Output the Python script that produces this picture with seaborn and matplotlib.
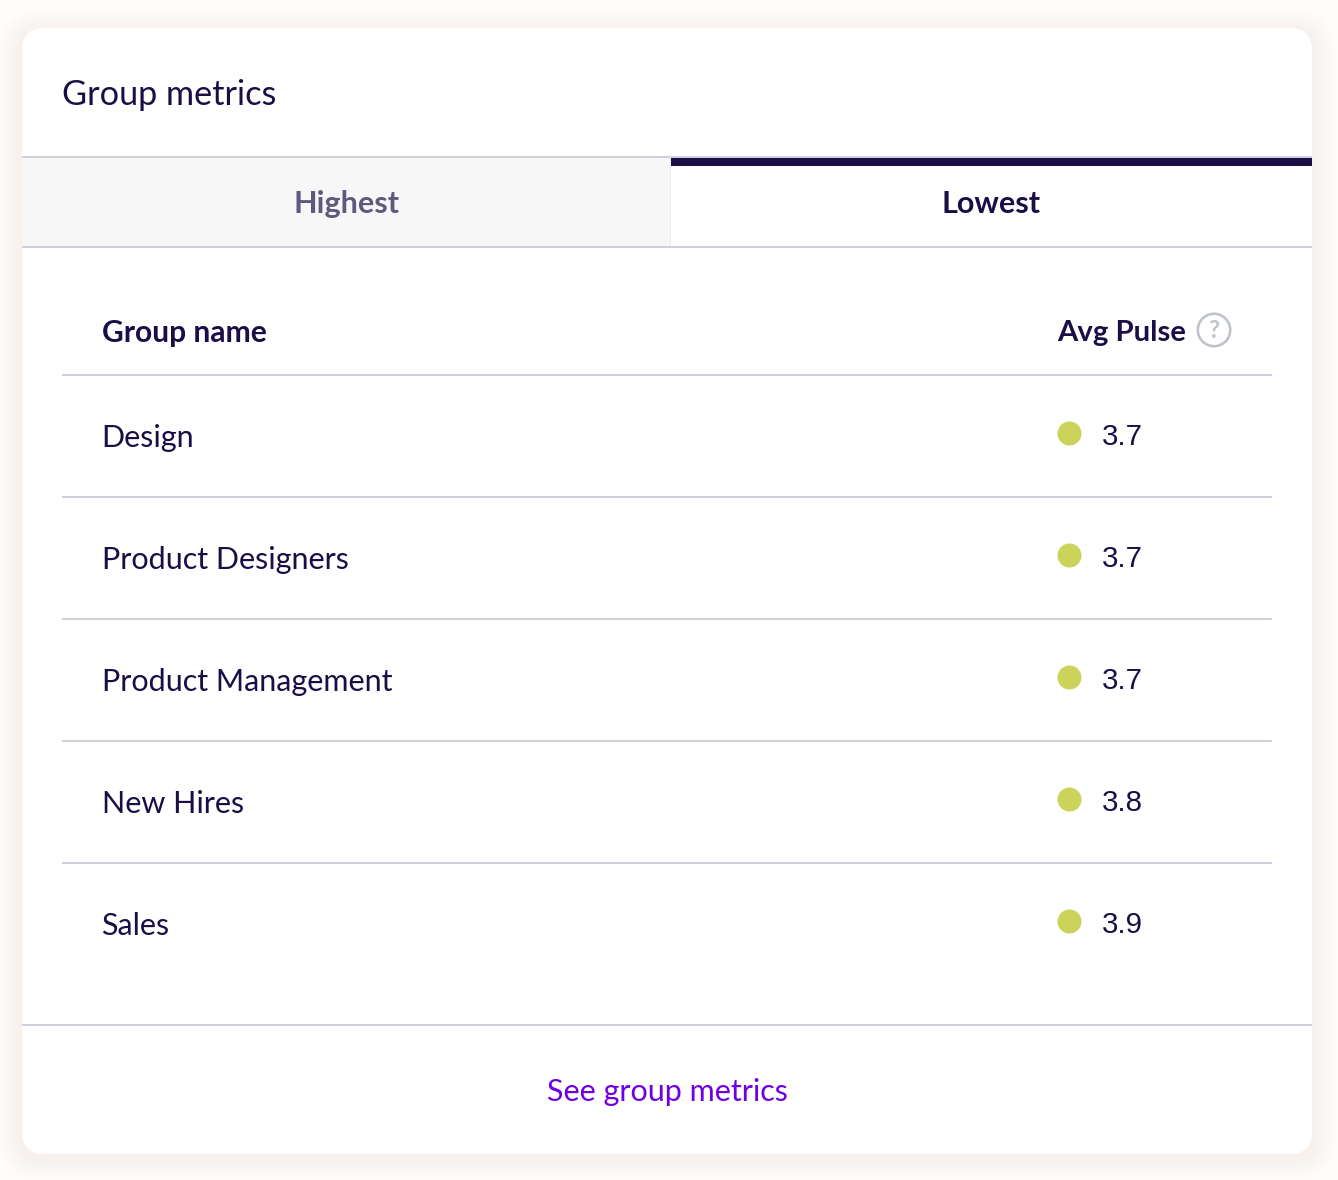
import matplotlib
matplotlib.use("Agg")
import matplotlib.pyplot as plt
from matplotlib.patches import FancyBboxPatch, Rectangle, Circle
import pandas as pd
import seaborn as sns

groups = ["Design", "Product Designers", "Product Management", "New Hires", "Sales"]
avg_pulse = [3.7, 3.7, 3.7, 3.8, 3.9]
title = "Group metrics"
tabs = ["Highest", "Lowest"]
headers = ["Group name", "Avg Pulse"]
link = "See group metrics"

INK = "#1B0D45"
RULE = "#D2D0DD"
DOT = "#CBD35B"
W, H = 1338, 1180
FONT = "Lato"

sns.set_theme(style="white")
plt.rcParams["font.family"] = [FONT, "DejaVu Sans"]

def pt(px):
    return px * 0.72

fig = plt.figure(figsize=(W / 100, H / 100), dpi=100, facecolor="#FFFCFB")
ax = fig.add_axes([0, 0, 1, 1])
ax.set_xlim(0, W)
ax.set_ylim(H, 0)
ax.axis("off")

# soft card shadow
for grow in range(24, 0, -2):
    ax.add_patch(FancyBboxPatch((22 - grow, 28 - grow + 5), 1290 + 2 * grow, 1126 + 2 * grow - 2,
                                boxstyle=f"round,pad=0,rounding_size={22 + grow}",
                                fc="#F7F0EB", ec="none", alpha=0.075, zorder=1))
card = FancyBboxPatch((22, 28), 1290, 1126, boxstyle="round,pad=0,rounding_size=22",
                      fc="white", ec="none", zorder=2)
ax.add_patch(card)

# tabs
ax.add_patch(Rectangle((22, 158), 648, 88, fc="#F7F7F8", ec="none", zorder=3))
ax.add_patch(Rectangle((670, 158), 1, 88, fc="#ECEBF1", ec="none", zorder=3))
ax.add_patch(Rectangle((671, 158), 641, 8, fc=INK, ec="none", zorder=5))
for y in (157, 247, 1025):
    ax.plot([22, 1312], [y, y], color=RULE, lw=1.45, solid_capstyle="butt", zorder=4)
for y in (375, 497, 619, 741, 863):
    ax.plot([62, 1272], [y, y], color=RULE, lw=1.45, solid_capstyle="butt", zorder=4)

ax.text(62, 95, title, fontsize=pt(34.3), color=INK, va="center", ha="left", zorder=6)
ax.text(346.5, 204, tabs[0], fontsize=pt(30.5), color="#5F5A7D", weight="bold", va="center", ha="center", zorder=6)
ax.text(991.5, 204, tabs[1], fontsize=pt(30.5), color=INK, weight="bold", va="center", ha="center", zorder=6)
ax.text(102, 333, headers[0], fontsize=pt(30), color=INK, weight="bold", va="center", ha="left", zorder=6)
ax.text(1057.5, 333, headers[1], fontsize=pt(29.2), color=INK, weight="bold", va="center", ha="left", zorder=6)
ax.add_patch(Circle((1214, 330), 16.2, fc="white", ec="#BFC4CB", lw=1.9, zorder=6))
ax.text(1213.5, 330.5, "?", fontsize=pt(24), color="#BFC4CB", weight="bold", va="center", ha="center", zorder=7)
ax.text(667, 1092, link, fontsize=pt(30.5), color="#6E00E6", va="center", ha="center", zorder=6)

# table body: one row per group
df = pd.DataFrame({"group": groups, "pulse": avg_pulse, "column": headers[1]})
row_h = 122
top = 372
body = fig.add_axes([62 / W, 1 - (top + 5 * row_h) / H, 1210 / W, 5 * row_h / H], zorder=8)
body.patch.set_alpha(0)
sns.scatterplot(data=df, x="column", y="group", color=DOT, s=pt(24) ** 2,
                linewidth=0, ax=body, legend=False, clip_on=False)
frac = (1068.5 - 62) / 1210
body.set_xlim(-frac, 1 - frac)
body.set_ylim(len(groups) - 0.5, -0.5)
body.axis("off")
for i, row in df.iterrows():
    body.annotate(row["group"], (0, i), xycoords=("axes fraction", "data"),
                  xytext=(pt(39.5), -pt(5)), textcoords="offset points",
                  fontsize=pt(30.5), color=INK, va="center", ha="left")
    body.annotate(f'{row["pulse"]:.1f}', (0, i), xytext=(pt(33.5), -pt(4)), textcoords="offset points",
                  fontsize=pt(29.5), color=INK, va="center", ha="left", family="Liberation Sans")

fig.savefig("out.png", dpi=100, facecolor=fig.get_facecolor())
